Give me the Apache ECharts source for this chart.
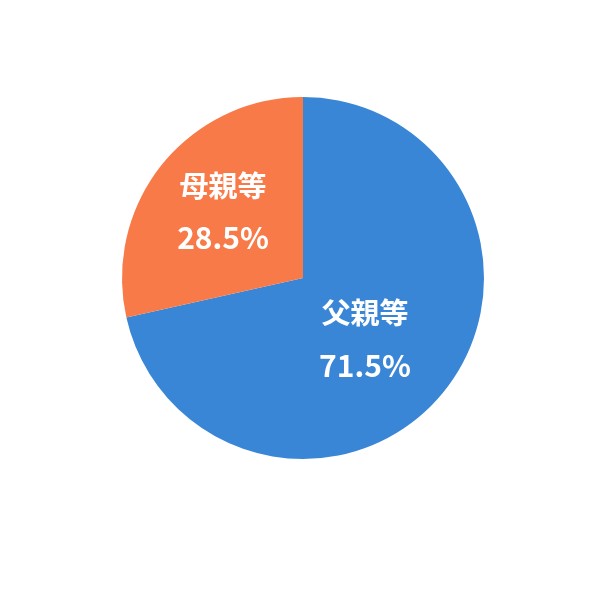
<!DOCTYPE html>
<html>
<head>
<meta charset="utf-8">
<style>html,body{margin:0;padding:0;background:#fff;}#c{width:589px;height:589px;}</style>
<script src="https://cdn.jsdelivr.net/npm/echarts@6/dist/echarts.min.js"></script>
</head>
<body>
<div id="c"></div>
<script>
var categories = ['父親等', '母親等'];
var values = [71.5, 28.5];

var colors = ['#3A86D6', '#F77A48'];
var labelPadding = [[6, 22, 0, 0], [0, 14, 16, 0]];

var chart = echarts.init(document.getElementById('c'), null, {renderer: 'canvas'});
var data = categories.map(function (n, i) {
  return { name: n, value: values[i], itemStyle: { color: colors[i] }, label: { padding: labelPadding[i] } };
});
chart.setOption({
  animation: false,
  series: [{
    type: 'pie',
    center: [303, 278],
    radius: [0, 181],
    startAngle: 90,
    clockwise: true,
    data: data,
    label: {
      show: true,
      position: 'inside',
      formatter: function (p) { return '{n|' + p.name + '}\n{v|' + p.value.toFixed(1) + '%}'; },
      rich: {
        n: { fontFamily: 'Noto Sans CJK JP', fontWeight: 'bold', fontSize: 29, color: '#fff', lineHeight: 52 },
        v: { fontFamily: 'Noto Sans CJK JP', fontWeight: 'bold', fontSize: 30, color: '#fff', lineHeight: 52 }
      }
    },
    labelLine: { show: false },
    itemStyle: { borderWidth: 0 },
    emphasis: { disabled: true }
  }]
});
</script>
</body>
</html>
